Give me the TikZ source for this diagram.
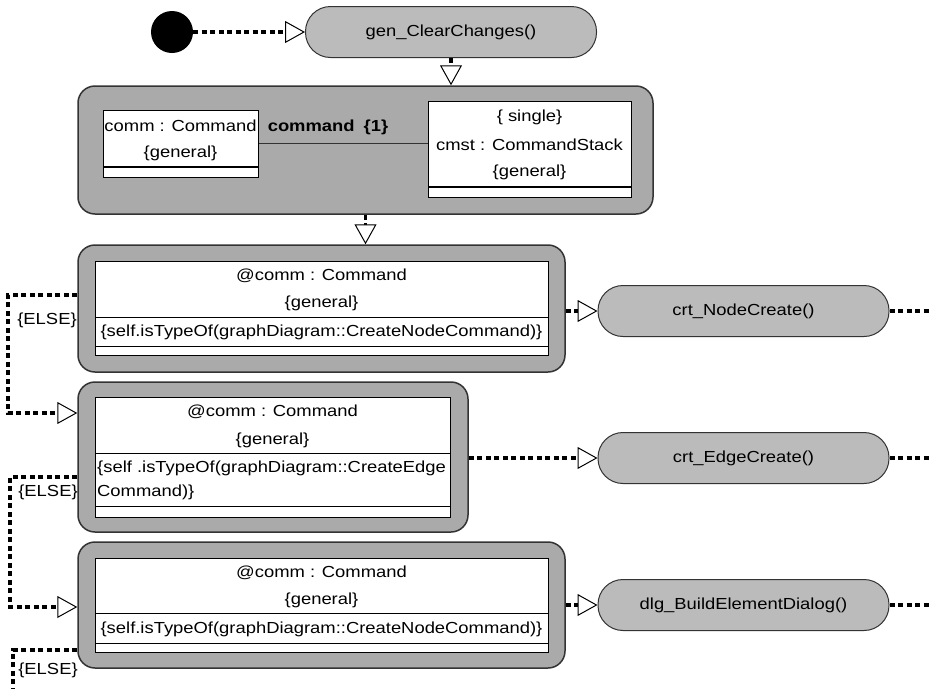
\documentclass[tikz,border=0pt]{standalone}
\usepackage{fontspec}
\setmainfont{Liberation Sans}[FakeStretch=1.15]
\usetikzlibrary{positioning,arrows.meta}

\definecolor{storygray}{HTML}{AAAAAA}
\definecolor{actgray}{HTML}{BBBBBB}
\definecolor{linegray}{HTML}{333333}

\begin{document}
\begin{tikzpicture}[x=1pt, y=-1pt,
  every node/.style={font=\fontsize{16}{18}\selectfont},
  action/.style={draw=linegray, fill=actgray, line width=1pt, rounded corners=25pt,
    minimum width=291pt, minimum height=51pt, inner sep=0pt},
  story/.style={draw=linegray, fill=storygray, line width=1.5pt, rounded corners=17pt, inner sep=0pt},
  obj/.style={draw=black, fill=white, line width=0.9pt},
  sep/.style={draw=black, line width=0.9pt},
  txt/.style={inner sep=0pt},
  flow/.style={draw=black, line width=3.2pt, dash pattern=on 5pt off 3.5pt,
    -{Triangle[length=20pt, width=22pt, fill=white, line width=1pt]}},
  flowend/.style={draw=black, line width=3.2pt, dash pattern=on 5pt off 3.5pt}
]
  \useasboundingbox (0,0) rectangle (931,689);

  % start and first action
  \node[circle, fill=black, minimum size=42pt, inner sep=0pt] (start) at (172,32) {};
  \node[action] (gen) at (451,32) {gen\_ClearChanges()};

  % pattern with the command link
  \node[story, minimum width=575pt, minimum height=128pt] (pattern) at (365.5,150) {};
  \node[obj, minimum width=155pt, minimum height=67pt, anchor=north west] (comm) at (103,110) {};
  \node[obj, minimum width=203pt, minimum height=96pt, anchor=north west] (cmst) at (428,101) {};
  \draw[line width=2.2pt] (103,167) -- (258,167);
  \draw[line width=2.2pt] (428,187) -- (631,187);
  \node[txt] (commname) at (180.5,126) {comm : Command};
  \node[txt] (commgen) at (180.5,153) {\{general\}};
  \node[txt] (cmstsingle) at (529.5,117) {\{ single\}};
  \node[txt] (cmstname) at (529.5,145) {cmst : CommandStack};
  \node[txt] (cmstgen) at (529.5,172) {\{general\}};
  \draw[linegray, line width=1pt] (comm.east) -- (comm.east -| cmst.west);
  \node[txt, font=\fontsize{16}{18}\selectfont\bfseries] (role) at (328,127) {command\hspace{9pt}\{1\}};

  % first check: node command
  \node[story, minimum width=487pt, minimum height=127pt] (s2) at (321.5,308.5) {};
  \draw[obj] (95,261) rectangle (548,355);
  \draw[sep] (95,317) -- (548,317);
  \draw[sep] (95,346) -- (548,346);
  \node[txt] (s2name) at (321.5,276) {@comm : Command};
  \node[txt] (s2gen) at (321.5,303) {\{general\}};
  \node[txt] (s2cond) at (321.5,332) {\{self.isTypeOf(graphDiagram::CreateNodeCommand)\}};

  % second check: edge command
  \node[story, minimum width=390pt, minimum height=150pt] (s3) at (273,457) {};
  \draw[obj] (95,397) rectangle (450,517);
  \draw[sep] (95,453) -- (450,453);
  \draw[sep] (95,506) -- (450,506);
  \node[txt] (s3name) at (272.5,412) {@comm : Command};
  \node[txt] (s3gen) at (272.5,440) {\{general\}};
  \node[txt, anchor=west] (s3cond) at (97,468) {\{self .isTypeOf(graphDiagram::CreateEdge};
  \node[txt, anchor=west] (s3cond2) at (97,492) {Command)\}};

  % third check: node command again
  \node[story, minimum width=487pt, minimum height=126pt] (s4) at (321.5,605) {};
  \draw[obj] (95,558) rectangle (548,652);
  \draw[sep] (95,613) -- (548,613);
  \draw[sep] (95,643) -- (548,643);
  \node[txt] (s4name) at (321.5,573) {@comm : Command};
  \node[txt] (s4gen) at (321.5,600) {\{general\}};
  \node[txt] (s4cond) at (321.5,629) {\{self.isTypeOf(graphDiagram::CreateNodeCommand)\}};

  % actions on the right
  \node[action] (crtnode) at (743.5,311) {crt\_NodeCreate()};
  \node[action] (crtedge) at (743.5,458) {crt\_EdgeCreate()};
  \node[action] (dlg) at (743.5,605) {dlg\_BuildElementDialog()};

  % flows
  \draw[flow] (start) -- (gen);
  \draw[flow] (gen.south) -- (gen.south |- pattern.north);
  \draw[flow] (pattern.south) -- (pattern.south |- s2.north);
  \draw[flow] (s2.east |- crtnode) -- (crtnode);
  \draw[flow] (s3.east |- crtedge) -- (crtedge);
  \draw[flow] (s4.east |- dlg) -- (dlg);

  \coordinate (out1) at (931,311);
  \coordinate (out2) at (931,458);
  \coordinate (out3) at (931,605);
  \draw[flowend] (crtnode.east) -- (out1);
  \draw[flowend] (crtedge.east) -- (out2);
  \draw[flowend] (dlg.east) -- (out3);

  % else branches
  \coordinate (k1) at (8,295);
  \coordinate (k2) at (8,413);
  \coordinate (k3) at (10,477);
  \coordinate (k4) at (10,607);
  \coordinate (k5) at (13,650);
  \coordinate (k6) at (13,689);
  \draw[flow] (s2.west |- k1) -- (k1) -- (k2) -- (s3.west |- k2);
  \draw[flow] (s3.west |- k3) -- (k3) -- (k4) -- (s4.west |- k4);
  \draw[flowend] (s4.west |- k5) -- (k5) -- (k6);
  \node[txt] (else1) at (47,320) {\{ELSE\}};
  \node[txt] (else2) at (48,492) {\{ELSE\}};
  \node[txt] (else3) at (48,670) {\{ELSE\}};
\end{tikzpicture}
\end{document}
